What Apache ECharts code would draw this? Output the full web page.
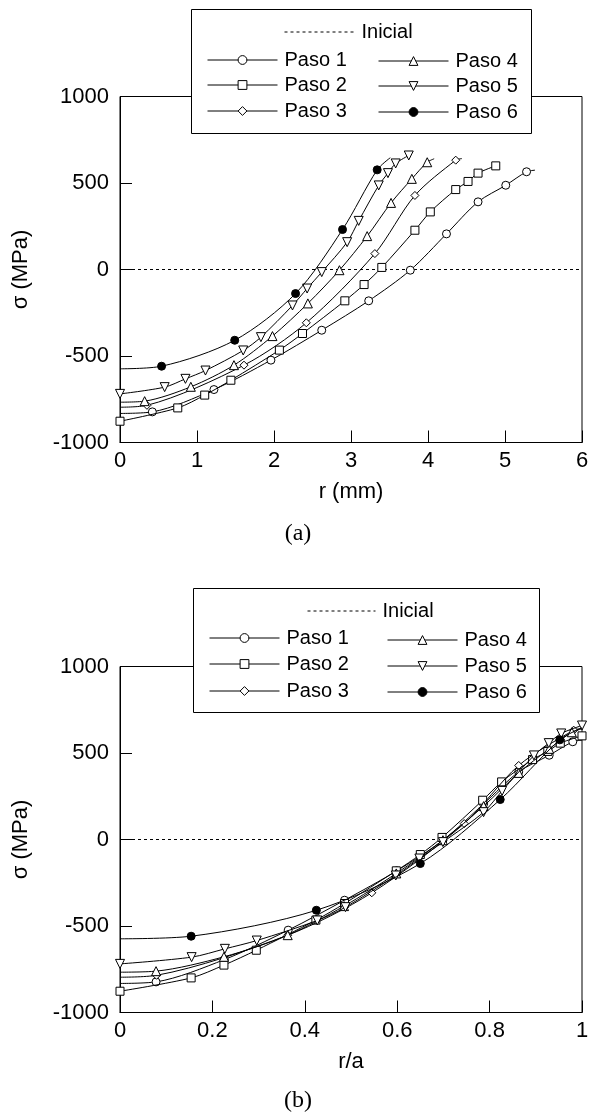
<!DOCTYPE html>
<html><head><meta charset="utf-8">
<script src="https://cdn.jsdelivr.net/npm/echarts@6/dist/echarts.min.js"></script>
<style>html,body{margin:0;padding:0;background:#fff}#c{width:590px;height:1115px}</style>
</head><body><div id="c"></div>
<script>
// ---------- DATA ----------
const seriesNames = ['Paso 1', 'Paso 2', 'Paso 3', 'Paso 4', 'Paso 5', 'Paso 6'];
const initialName = 'Inicial';
const captions = ['(a)', '(b)'];
const xNameA = 'r (mm)';
const xNameB = 'r/a';
const yName = 'σ (MPa)';
const xRangeA = [0, 6, 1];
const xRangeB = [0, 1, 0.2];
const yRange = [-1000, 1000, 500];

// marker points: r (mm), r/a, sigma (MPa)
const p1_r  = [0.42, 1.22, 1.96, 2.62, 3.23, 3.77, 4.24, 4.65, 5.01, 5.28];
const p1_ra = [0.078, 0.226, 0.364, 0.486, 0.599, 0.699, 0.787, 0.863, 0.929, 0.980];
const p1_s  = [-823, -694, -524, -351, -181, -4, 206, 391, 487, 565];

const p2_r  = [0, 0.75, 1.10, 1.44, 2.07, 2.37, 2.92, 3.17, 3.40, 3.83, 4.03, 4.36, 4.52, 4.65, 4.88];
const p2_ra = [0, 0.154, 0.225, 0.295, 0.424, 0.486, 0.598, 0.650, 0.697, 0.785, 0.826, 0.893, 0.926, 0.953, 1.0];
const p2_s  = [-877, -800, -726, -640, -466, -370, -181, -87, 12, 227, 333, 462, 509, 557, 599];

const p3_r  = [0.35, 1.61, 2.42, 3.31, 3.83, 4.36];
const p3_ra = [0.079, 0.363, 0.545, 0.745, 0.863, 0.982];
const p3_s  = [-785, -553, -308, 92, 428, 632];

const p4_r  = [0.32, 0.92, 1.48, 1.98, 2.44, 2.85, 3.21, 3.52, 3.79, 3.99];
const p4_ra = [0.078, 0.225, 0.363, 0.485, 0.598, 0.699, 0.787, 0.863, 0.929, 0.978];
const p4_s  = [-761, -678, -553, -385, -196, -4, 193, 385, 524, 620];

const p5_r  = [0, 0.58, 0.85, 1.11, 1.60, 1.83, 2.24, 2.43, 2.62, 2.95, 3.10, 3.36, 3.48, 3.58, 3.75];
const p5_ra = [0, 0.155, 0.227, 0.296, 0.427, 0.488, 0.597, 0.648, 0.699, 0.787, 0.827, 0.896, 0.928, 0.955, 1.0];
const p5_s  = [-719, -680, -632, -584, -468, -391, -208, -110, -15, 158, 281, 486, 557, 613, 659];

const p6_r  = [0.54, 1.49, 2.28, 2.89, 3.34];
const p6_ra = [0.154, 0.425, 0.650, 0.823, 0.952];
const p6_s  = [-559, -409, -139, 231, 576];

// unmarked line ends (curve start at r = 0 and curve tail)
const lineStart_s = [-832, null, -796, -767, null, -574];
const lineEnd_r   = [5.39, null, 4.44, 4.08, null, 3.51];
const lineEnd_ra  = [1, null, 1, 1, null, 1];
const lineEnd_s   = [574, null, 641, 640, null, 646];

// initial state (zero stress)
const initA_r = [0, 6];
const initB_ra = [0, 1];
const init_s = [0, 0];

// ---------- BUILD ----------
const FONT = 'Liberation Sans, Arial, sans-serif';
const marksR = [p1_r, p2_r, p3_r, p4_r, p5_r, p6_r];
const marksRA = [p1_ra, p2_ra, p3_ra, p4_ra, p5_ra, p6_ra];
const marksS = [p1_s, p2_s, p3_s, p4_s, p5_s, p6_s];
const symbols = ['circle', 'rect', 'diamond', 'triangle', 'triangle', 'circle'];
const symRot = [0, 0, 0, 0, 180, 0];
const symSize = [8, 8, 8, 9, 9, 8];
const symFill = ['#fff', '#fff', '#fff', '#fff', '#fff', '#000'];

function buildData(i, xs, xEnd) {
  const d = [];
  if (lineStart_s[i] !== null) d.push({ value: [0, lineStart_s[i]], symbol: 'none' });
  xs.forEach((x, k) => d.push([x, marksS[i][k]]));
  if (xEnd[i] !== null) d.push({ value: [xEnd[i], lineEnd_s[i]], symbol: 'none' });
  return d;
}

const grids = [
  { left: 120, top: 96.5, width: 462, height: 346 },
  { left: 120, top: 666.5, width: 462, height: 346 }
];

const series = [];
[0, 1].forEach(g => {
  series.push({
    name: initialName, type: 'line', xAxisIndex: g, yAxisIndex: g,
    data: (g === 0 ? initA_r : initB_ra).map((x, k) => [x, init_s[k]]),
    symbol: 'none', silent: true, z: 1,
    lineStyle: { color: '#000', width: 1, type: [3, 3] },
    itemStyle: { color: '#000' }
  });
  for (let i = 0; i < 6; i++) {
    series.push({
      name: seriesNames[i], type: 'line', xAxisIndex: g, yAxisIndex: g,
      data: buildData(i, g === 0 ? marksR[i] : marksRA[i], g === 0 ? lineEnd_r : lineEnd_ra),
      smooth: 0.3,
      symbol: symbols[i], symbolRotate: symRot[i], symbolSize: symSize[i],
      showAllSymbol: true, z: 3 + i,
      lineStyle: { color: '#000', width: 1 },
      itemStyle: { color: symFill[i], borderColor: '#000', borderWidth: 1 },
      emphasis: { disabled: true }
    });
  }
});

const xAxes = [xRangeA, xRangeB].map((rg, g) => ({
  gridIndex: g, type: 'value', min: rg[0], max: rg[1], interval: rg[2],
  name: g === 0 ? xNameA : xNameB, nameLocation: 'middle', nameGap: 38,
  nameTextStyle: { fontFamily: FONT, fontSize: 22, color: '#000' },
  axisLine: { onZero: false, lineStyle: { color: '#000', width: 1 } },
  axisTick: { inside: true, length: 12, lineStyle: { color: '#000', width: 1 } },
  axisLabel: { fontFamily: FONT, fontSize: 22, color: '#000', margin: 7,
    formatter: v => String(Math.round(v * 10) / 10) },
  splitLine: { show: false }
}));
const yAxes = [0, 1].map(g => ({
  gridIndex: g, type: 'value', min: yRange[0], max: yRange[1], interval: yRange[2],
  name: yName, nameLocation: 'middle', nameGap: 88, nameRotate: 90,
  nameTextStyle: { fontFamily: FONT, fontSize: 22, color: '#000' },
  axisLine: { onZero: false, lineStyle: { color: '#000', width: 1 } },
  axisTick: { inside: true, length: 12, lineStyle: { color: '#000', width: 1 } },
  axisLabel: { fontFamily: FONT, fontSize: 22, color: '#000', margin: 11,
    formatter: v => String(v) },
  splitLine: { show: false }
}));

// legend positions: [lineStartX, centerY, itemWidth]
const legendPos = [
  [[284, 32, 70], [207, 60, 70], [207, 85, 70], [207, 111, 70], [378, 61, 70], [378, 86, 70], [378, 112, 70]],
  [[307, 611, 68], [209, 638, 70], [209, 664, 70], [209, 691, 70], [387, 640, 70], [387, 666, 70], [387, 692, 70]]
];
const legends = [];
legendPos.forEach(block => {
  block.forEach((p, k) => {
    const name = k === 0 ? initialName : seriesNames[k - 1];
    legends.push({
      data: [k === 0 ? { name, itemStyle: { opacity: 0 } } : name],
      left: p[0], top: p[1] - 10, itemWidth: p[2], itemHeight: 11,
      padding: 0, selectedMode: false, z: 20,
      lineStyle: { width: 1 },
      itemStyle: { borderWidth: 1 },
      textStyle: { fontFamily: FONT, fontSize: 20, color: '#000', lineHeight: 20, padding: [0, 0, 0, 2] }
    });
  });
});

const option = {
  animation: false,
  backgroundColor: '#fff',
  grid: grids.map(g => Object.assign({
    show: true, borderColor: '#000', borderWidth: 1, backgroundColor: 'transparent',
    containLabel: false, outerBoundsMode: 'none'
  }, g)),
  xAxis: xAxes,
  yAxis: yAxes,
  legend: legends,
  series: series,
  graphic: [
    { type: 'rect', z: 10, shape: { x: 191.5, y: 9.5, width: 340, height: 124 },
      style: { fill: '#fff', stroke: '#000', lineWidth: 1 } },
    { type: 'rect', z: 10, shape: { x: 193.5, y: 588.5, width: 346, height: 124 },
      style: { fill: '#fff', stroke: '#000', lineWidth: 1 } },
    { type: 'text', z: 10, x: 298, y: 534,
      style: { text: captions[0], font: '24px "Liberation Serif", "Times New Roman", serif', fill: '#000', textAlign: 'center', textVerticalAlign: 'middle' } },
    { type: 'text', z: 10, x: 298, y: 1101,
      style: { text: captions[1], font: '24px "Liberation Serif", "Times New Roman", serif', fill: '#000', textAlign: 'center', textVerticalAlign: 'middle' } }
  ]
};

const chart = echarts.init(document.getElementById('c'), null, { renderer: 'canvas' });
chart.setOption(option);
</script>
</body></html>
